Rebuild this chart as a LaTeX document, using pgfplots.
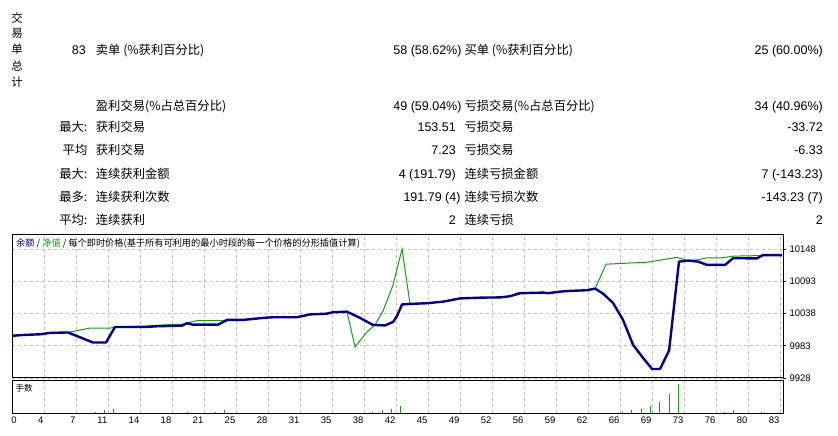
\documentclass[border=0pt]{standalone}
\usepackage{pgfplots}
\pgfplotsset{compat=1.18}
\usepackage{fontspec}
\setmainfont{Liberation Sans}
\newfontfamily\cjk{Noto Sans CJK SC}

\definecolor{balblue}{RGB}{0,0,140}
\definecolor{eqgreen}{RGB}{30,150,30}
\definecolor{gridgray}{RGB}{190,190,190}

\begin{document}
\begin{tikzpicture}
\useasboundingbox (0,0) rectangle (838bp,436bp);
\fill[white] (0,0) rectangle (838bp,436bp);

\tikzset{
  tbl/.style={inner sep=0pt, font=\fontsize{12.5bp}{14bp}\selectfont},
  tcj/.style={inner sep=0pt, font=\fontsize{12.3bp}{14bp}\selectfont\cjk},
  vt/.style={inner sep=0pt, font=\fontsize{11.5bp}{12bp}\selectfont\cjk},
}

% vertical caption
\node[vt] at (17bp,417.7bp) {交};
\node[vt] at (17bp,402.7bp) {易};
\node[vt] at (17bp,386.7bp) {单};
\node[vt] at (17bp,370bp) {总};
\node[vt] at (17bp,354.3bp) {计};

% summary table
\node[tbl, anchor=base east] at (86bp,381.1bp) {83};
\node[tcj, anchor=base west] at (95.7bp,381.1bp) {卖单 (\%获利百分比)};
\node[tbl, anchor=base east] at (461.7bp,381.1bp) {58 (58.62\%)};
\node[tcj, anchor=base west] at (464.3bp,381.1bp) {买单 (\%获利百分比)};
\node[tbl, anchor=base east] at (823bp,381.1bp) {25 (60.00\%)};

\node[tcj, anchor=base west] at (95.7bp,325.8bp) {盈利交易(\%占总百分比)};
\node[tbl, anchor=base east] at (461.7bp,325.8bp) {49 (59.04\%)};
\node[tcj, anchor=base west] at (464.3bp,325.8bp) {亏损交易(\%占总百分比)};
\node[tbl, anchor=base east] at (823bp,325.8bp) {34 (40.96\%)};

\node[tcj, anchor=base east] at (87.5bp,304.1bp) {最大:};
\node[tcj, anchor=base west] at (95.7bp,304.1bp) {获利交易};
\node[tbl, anchor=base east] at (456bp,304.1bp) {153.51};
\node[tcj, anchor=base west] at (464.3bp,304.1bp) {亏损交易};
\node[tbl, anchor=base east] at (823bp,304.1bp) {-33.72};

\node[tcj, anchor=base east] at (87.5bp,281.1bp) {平均};
\node[tcj, anchor=base west] at (95.7bp,281.1bp) {获利交易};
\node[tbl, anchor=base east] at (456bp,281.1bp) {7.23};
\node[tcj, anchor=base west] at (464.3bp,281.1bp) {亏损交易};
\node[tbl, anchor=base east] at (823bp,281.1bp) {-6.33};

\node[tcj, anchor=base east] at (87.5bp,257.8bp) {最大:};
\node[tcj, anchor=base west] at (95.7bp,257.8bp) {连续获利金额};
\node[tbl, anchor=base east] at (456bp,257.8bp) {4 (191.79)};
\node[tcj, anchor=base west] at (464.3bp,257.8bp) {连续亏损金额};
\node[tbl, anchor=base east] at (823bp,257.8bp) {7 (-143.23)};

\node[tcj, anchor=base east] at (87.5bp,234.5bp) {最多:};
\node[tcj, anchor=base west] at (95.7bp,234.5bp) {连续获利次数};
\node[tbl, anchor=base east] at (460.7bp,234.5bp) {191.79 (4)};
\node[tcj, anchor=base west] at (464.3bp,234.5bp) {连续亏损次数};
\node[tbl, anchor=base east] at (823bp,234.5bp) {-143.23 (7)};

\node[tcj, anchor=base east] at (87.5bp,211.8bp) {平均:};
\node[tcj, anchor=base west] at (95.7bp,211.8bp) {连续获利};
\node[tbl, anchor=base east] at (456bp,211.8bp) {2};
\node[tcj, anchor=base west] at (464.3bp,211.8bp) {连续亏损};
\node[tbl, anchor=base east] at (823bp,211.8bp) {2};

\pgfplotsset{
  mtgrid/.style={
    scale only axis, width=771bp, xmin=0, xmax=83.32,
    xtick={0,3.4583,6.9167,10.375,13.8333,17.2917,20.75,24.2083,27.6667,31.125,34.5833,38.0417,41.5,44.9583,48.4167,51.875,55.3333,58.7917,62.25,65.7083,69.1667,72.625,76.0833,79.5417,83},
    xmajorgrids,
    grid style={gridgray, dash pattern=on 3bp off 3bp, line width=0.6bp},
    axis line style={line width=1bp},
    tick label style={font=\fontsize{9.5bp}{11bp}\selectfont},
    xtick style={draw=none},
  }
}

% balance / equity panel
\begin{axis}[mtgrid,
  at={(12bp,58bp)}, anchor=south west, height=143bp,
  ymin=9928, ymax=10172,
  ytick={9928,9983,10038,10093,10148},
  yticklabels={9928,9983,10038,10093,10148},
  scaled y ticks=false,
  ymajorgrids,
  xticklabels={,,,,,,,,,,,,,,,,,,,,,,,,},
  yticklabel pos=right,
  ytick pos=right,
  tick align=outside,
  major tick length=3bp,
  ytick style={black, line width=0.6bp},
]
\addplot[eqgreen, line width=1bp] coordinates {
(0,10000) (1.19,10001.4) (3.03,10002.6) (4.11,10004.9) (6.05,10005.7)
(8.32,10012.9) (10.59,10012.9) (11.13,10015.1) (14.59,10016.8) (16.86,10019.0)
(18.37,10019.7) (19.99,10025.9) (22.70,10025.9) (23.24,10027.1) (24.96,10027.1)
(27.13,10030.5) (28.21,10031.7) (30.80,10031.7) (32.20,10036.5) (34.04,10037.8)
(34.69,10040.2) (36.20,10041.2) (37.07,9981.0) (38.37,10006.6) (39.23,10018.5)
(40.10,10042.4) (41.18,10086.8) (42.15,10148.3) (43.01,10054.4) (44.85,10055.6)
(46.58,10058.3) (48.42,10063.8) (50.90,10065.2) (52.74,10065.5) (53.82,10067.5)
(54.68,10073.4) (57.93,10073.7) (59.23,10075.4) (60.30,10076.6) (62.14,10077.8)
(63.01,10080.5) (64.20,10122.2) (68.63,10125.6) (71.87,10133.8) (72.95,10128.7)
(74.03,10129.5) (75.11,10133.0) (76.73,10133.0) (77.92,10135.9) (80.84,10136.9)
(81.16,10137.6) (83.22,10137.6)
};
\addplot[balblue, line width=2.4bp, line join=round] coordinates {
(0,10000) (1.19,10001.4) (3.03,10002.6) (4.11,10004.9) (6.05,10005.7)
(8.75,9988.6) (10.16,9988.6) (11.13,10015.1) (14.59,10015.1) (15.67,10016.3)
(18.37,10017.3) (18.91,10021.4) (19.56,10019.0) (22.26,10019.0) (23.24,10027.1)
(24.96,10027.1) (27.13,10030.5) (28.21,10031.7) (30.80,10031.7) (32.20,10036.5)
(34.04,10037.8) (34.69,10040.2) (36.20,10041.2) (37.61,10030.5) (39.01,10018.5)
(40.31,10017.7) (41.18,10023.6) (41.61,10033.9) (42.15,10053.5) (43.01,10054.4)
(44.85,10055.6) (46.58,10058.3) (48.42,10063.8) (50.90,10065.2) (52.74,10065.5)
(53.82,10067.5) (54.90,10072.7) (57.39,10073.7) (57.93,10072.7) (59.23,10075.4)
(60.30,10076.6) (62.14,10077.8) (63.01,10080.5) (63.87,10072.0) (64.95,10056.1)
(66.03,10027.1) (67.12,9984.4) (68.20,9962.2) (69.17,9943.4) (70.03,9943.4)
(71.01,9975.0) (72.08,10126.6) (73.06,10128.3) (74.14,10126.6) (75.11,10121.0)
(77.06,10121.0) (77.92,10132.4) (80.51,10132.1) (81.16,10137.6) (83.22,10137.6)
};
\end{axis}

\node[anchor=west, inner sep=0pt, font=\fontsize{9.2bp}{10bp}\selectfont\cjk] at (16bp,193bp)
  {\textcolor{balblue}{余额} / \textcolor{eqgreen}{净值} / 每个即时价格(基于所有可利用的最小时段的每一个价格的分形插值计算)};

% lots panel
\begin{axis}[mtgrid,
  at={(12bp,23bp)}, anchor=south west, height=33bp,
  ymin=0, ymax=0.23, ytick=\empty,
  xticklabels={\makebox[0pt][l]{0},4,7,11,14,18,21,25,28,31,35,38,42,45,49,52,56,59,62,66,69,73,76,80,83},
  xticklabel style={anchor=north east, inner xsep=0.5bp},
  major tick length=0pt,
]
\addplot[ycomb, eqgreen, line width=1bp, mark=none] coordinates {
(9,0.01) (10,0.02) (11,0.03) (19,0.01) (22,0.01) (23,0.02)
(39,0.01) (40,0.02) (41,0.03) (42,0.05)
(66,0.01) (67,0.02) (68,0.03) (69,0.05) (70,0.08) (71,0.13) (72,0.20)
(77,0.01) (78,0.02) (81,0.01)
};
\end{axis}

\node[anchor=west, inner sep=0pt, font=\fontsize{8.5bp}{10bp}\selectfont\cjk] at (15.5bp,48bp) {手数};

\end{tikzpicture}
\end{document}
